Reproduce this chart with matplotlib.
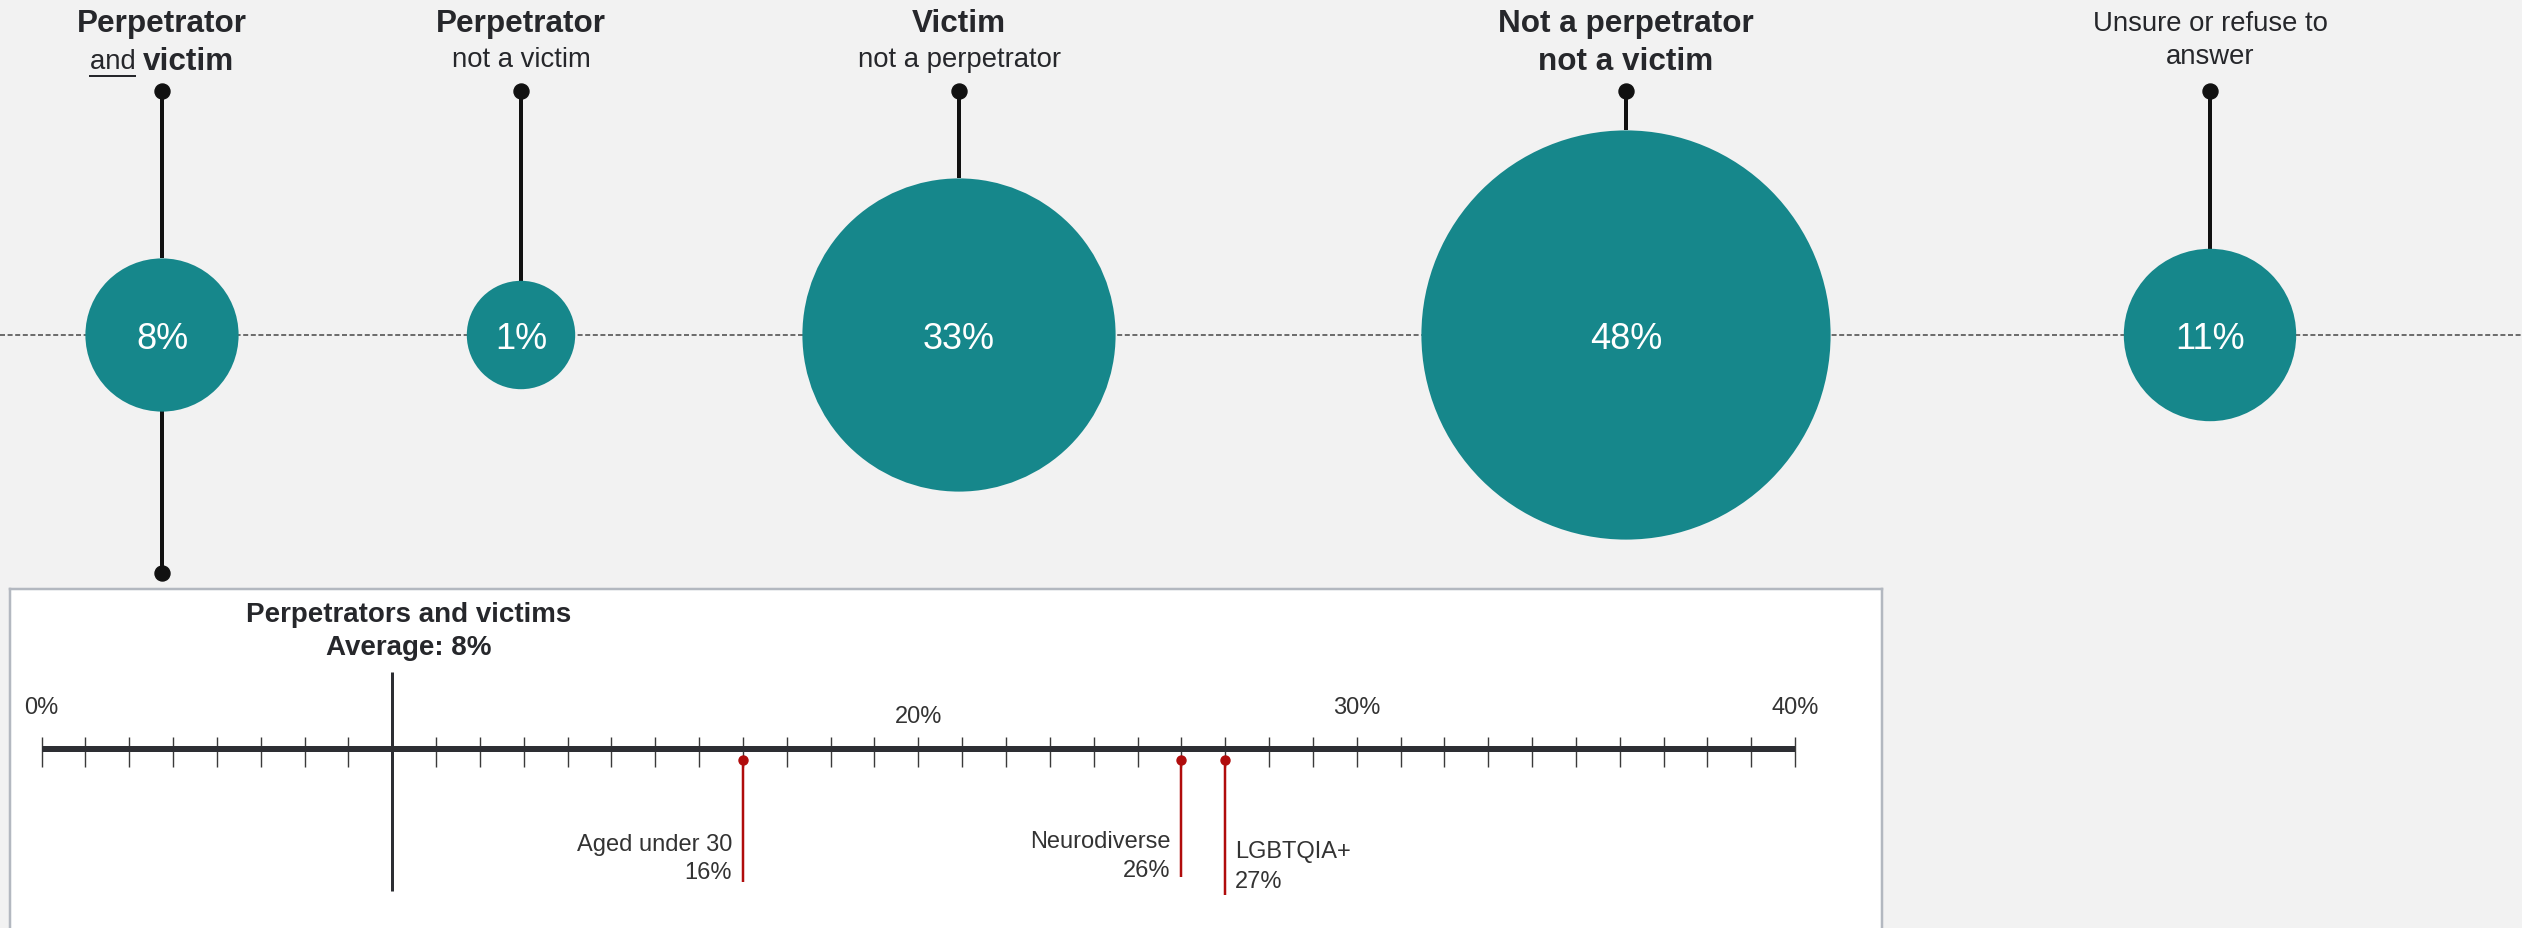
import numpy as np
import matplotlib
matplotlib.use("Agg")
import matplotlib.pyplot as plt
from matplotlib.patches import Circle

plt.rcParams['font.family'] = ['Liberation Sans', 'DejaVu Sans']

# groups along the top row
group_titles = ["Perpetrator", "Perpetrator", "Victim", "Not a perpetrator", "Unsure or refuse to"]
group_subtitles = ["and victim", "not a victim", "not a perpetrator", "not a victim", "answer"]
group_share = [8, 1, 33, 48, 11]

# breakdown for perpetrators and victims
avg_share = 8
subgroups = ["Aged under 30", "Neurodiverse", "LGBTQIA+"]
subgroup_share = [16, 26, 27]
scale_ticks = [0, 20, 30, 40]
scale_labels = ["0%", "20%", "30%", "40%"]

W, H = 2522, 929
PT = 0.72  # px -> pt at dpi 100
TEAL = "#16878b"
INK = "#26272b"
RED = "#b00c0c"

fig = plt.figure(figsize=(W / 100, H / 100), dpi=100, facecolor="#f2f2f2")
ax = fig.add_axes([0, 0, 1, 1])
ax.set_xlim(0, W)
ax.set_ylim(H, 0)
ax.axis("off")

mid_y = 336
xs = [162, 521, 959, 1626, 2210]

def radius(v):
    return 51 + 3.2 * v

ax.axhline(mid_y, color="#6e6e6e", lw=2 * PT, ls=(0, (2.5, 1.3)), zorder=1)

for i, (x, v) in enumerate(zip(xs, group_share)):
    r = radius(v)
    ax.add_patch(Circle((x, mid_y), r, color=TEAL, zorder=3, lw=0))
    ax.text(x, mid_y + 3, f"{v}%", color="white", fontsize=26, ha="center",
            va="center", zorder=4)
    ax.plot([x, x], [92, mid_y - r], color="#111111", lw=4 * PT, zorder=2,
            solid_capstyle="butt")
    ax.plot(x, 92, "o", color="#111111", ms=15 * PT, zorder=2)

# first group also links down into the breakdown box
r0 = radius(group_share[0])
ax.plot([xs[0], xs[0]], [mid_y + r0, 574], color="#111111", lw=4 * PT, zorder=2)
ax.plot(xs[0], 574, "o", color="#111111", ms=15 * PT, zorder=2)

# headings
for i, x in enumerate(xs):
    if i == 4:
        ax.text(x, 24, group_titles[i], fontsize=19.8, color=INK, ha="center", va="center")
        ax.text(x, 57, group_subtitles[i], fontsize=19.8, color=INK, ha="center", va="center")
        continue
    ax.text(x, 24, group_titles[i], fontsize=22.7, fontweight="bold", color=INK,
            ha="center", va="center")
    if i == 0:
        continue
    bold = i == 3
    ax.text(x, 62 if bold else 60, group_subtitles[i], fontsize=22.7 if bold else 19.8,
            fontweight="bold" if bold else "normal", color=INK, ha="center", va="center")

# "and victim": underlined regular word followed by bold word
fig.canvas.draw()
rend = fig.canvas.get_renderer()
w1 = ax.text(0, 0, "and ", fontsize=19.8, color=INK)
w2 = ax.text(0, 0, "victim", fontsize=22.7, fontweight="bold", color=INK)
e1 = w1.get_window_extent(rend).width
e2 = w2.get_window_extent(rend).width
start = xs[0] - (e1 + e2) / 2
w1.set_position((start, 62)); w1.set_va("center")
w2.set_position((start + e1, 62)); w2.set_va("center")
und = ax.text(0, 0, "and", fontsize=19.8)
e_und = und.get_window_extent(rend).width
und.remove()
ax.plot([start, start + e_und], [77, 77], color=INK, lw=2 * PT)

# breakdown box
box_top = 590
zero_px, pct_px = 41.5, 43.84
ins = fig.add_axes([10 / W, -0.02, (1882 - 10) / W, (H - box_top) / H + 0.02])
ins.set_facecolor("white")
ins.set_xlim(-(zero_px - 10) / pct_px, (1882 - zero_px) / pct_px)
ins.set_ylim(H + 0.02 * H, box_top)
ins.set_xticks([])
ins.set_yticks([])
for side in ["top", "left", "right"]:
    ins.spines[side].set_color("#b3b8c0")
    ins.spines[side].set_linewidth(2.5 * PT)
ins.spines["bottom"].set_visible(False)

axis_y = 750
ins.vlines(np.arange(scale_ticks[0], scale_ticks[-1] + 1), 738, 768, color="#3a3a3a", lw=1.4 * PT)
ins.hlines(axis_y, scale_ticks[0], scale_ticks[-1], color="#2d2e33", lw=6 * PT, capstyle="butt")
for t, lab in zip(scale_ticks, scale_labels):
    ins.text(t, 717 if t == 20 else 708, lab, fontsize=17, color="#333333",
             ha="center", va="center")

ins.vlines(avg_share, 673, 892, color="#2d2e33", lw=3 * PT)
ins.text(avg_share + 0.38, 615, "Perpetrators and victims", fontsize=20, fontweight="bold",
         color=INK, ha="center", va="center")
ins.text(avg_share + 0.38, 648, f"Average: {avg_share}%", fontsize=20, fontweight="bold",
         color=INK, ha="center", va="center")

line_ends = [883, 878, 896]
label_rows = [(845, 873), (842, 871), (852, 882)]
label_side = ["left", "left", "right"]
for name, v, end, rows, side in zip(subgroups, subgroup_share, line_ends, label_rows, label_side):
    ins.vlines(v, 761, end, color=RED, lw=2.5 * PT)
    ins.plot(v, 761, "o", color=RED, ms=9 * PT)
    if side == "left":
        tx, ha = v - 0.25, "right"
    else:
        tx, ha = v + 0.22, "left"
    ins.text(tx, rows[0], name, fontsize=17, color="#333333", ha=ha, va="center")
    ins.text(tx, rows[1], f"{v}%", fontsize=17, color="#333333", ha=ha, va="center")

fig.savefig("out.png", dpi=100, facecolor=fig.get_facecolor())
